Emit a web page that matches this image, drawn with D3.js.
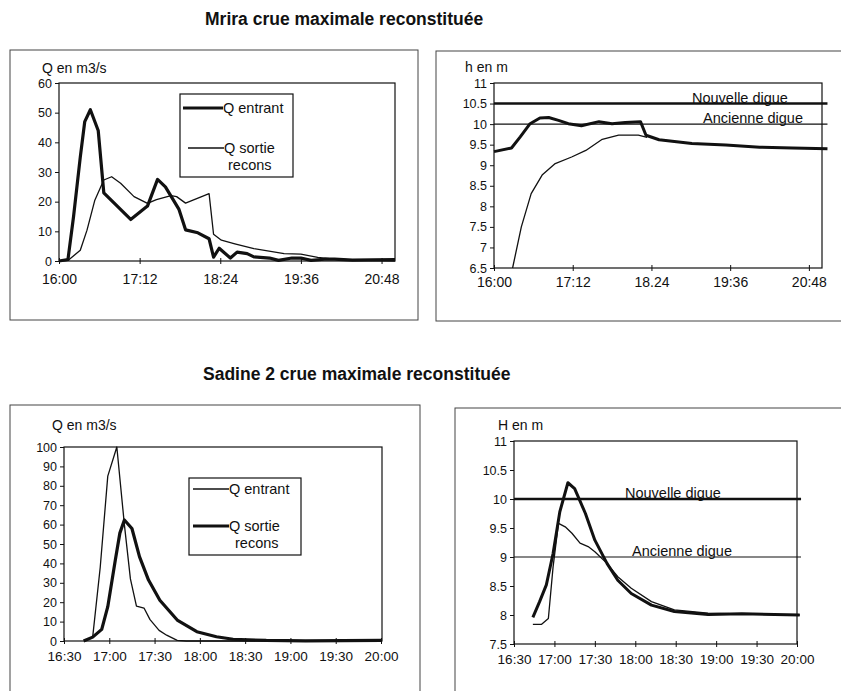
<!DOCTYPE html>
<meta charset="utf-8">
<script src="https://cdnjs.cloudflare.com/ajax/libs/d3/7.8.5/d3.min.js"></script>
<style>
  body { margin: 0; background: #fff; }
  text { font-family: Arial, "Liberation Sans", sans-serif; fill: #111; }
</style>
<svg id="page" width="841" height="691"></svg>
<script>

  // times are minutes after the first tick (16:00 for Mrira, 16:30 for Sadine)
  const mriraTicks = [0, 72, 144, 216, 288]
  const mriraQLabels = ['16:00', '17:12', '18:24', '19:36', '20:48']
  const mriraHLabels = ['16:00', '17:12', '18.24', '19:36', '20:48']
  const mriraQTicks = [0, 10, 20, 30, 40, 50, 60]
  const mriraHTicks = [6.5, 7, 7.5, 8, 8.5, 9, 9.5, 10, 10.5, 11]

  const mriraQEntrant = [[0, 0], [8, 0.5], [13, 15], [19, 35], [23, 47], [28, 51], [35, 44], [40, 23],
    [64, 14], [79, 18.5], [88, 27.5], [95, 25], [107, 17.5], [113, 10.5], [124, 9.5], [134, 7.5],
    [138, 1.3], [143, 4.3], [153, 1], [159, 3], [168, 2.5], [174, 1.4], [188, 1], [196, 0.2],
    [208, 1], [216, 1], [225, 0.2], [237, 0.6], [246, 0.6], [262, 0.3], [280, 0.4], [300, 0.5]]
  const mriraQSortie = [[0, 0], [8, 0.2], [19, 3.6], [25, 10.4], [32, 20.5], [40, 27.3], [47, 28.4],
    [55, 26.2], [67, 21.7], [79, 19.4], [87, 20.7], [100, 22], [105, 21.7], [113, 19.5], [134, 22.7],
    [138, 9], [145, 7], [157, 5.8], [174, 4.2], [201, 2.5], [216, 2.3], [231, 1.2], [246, 0.6],
    [276, 0.2], [300, 0]]

  const mriraHThick = [[0, 9.33], [16, 9.42], [24, 9.69], [33, 10.01], [42, 10.15], [50, 10.16],
    [59, 10.09], [68, 10.01], [80, 9.96], [96, 10.06], [108, 10.01], [120, 10.04], [134, 10.06],
    [139, 9.73], [151, 9.62], [181, 9.53], [212, 9.49], [243, 9.44], [273, 9.42], [305, 9.4]]
  const mriraHThin = [[17, 6.5], [25, 7.5], [34, 8.31], [44, 8.76], [56, 9.04], [71, 9.2], [84, 9.36],
    [99, 9.63], [114, 9.73], [132, 9.73], [140, 9.68]]
  const mriraDigues = [10.5, 10]

  const sadineTicks = [0, 30, 60, 90, 120, 150, 180, 210]
  const sadineLabels = ['16:30', '17:00', '17:30', '18:00', '18:30', '19:00', '19:30', '20:00']
  const sadineQTicks = [0, 10, 20, 30, 40, 50, 60, 70, 80, 90, 100]
  const sadineHTicks = [7.5, 8, 8.5, 9, 9.5, 10, 10.5, 11]

  const sadineQEntrant = [[14, 0], [19, 2], [24, 38], [29, 85], [35, 100], [40, 60], [44, 32], [48, 18],
    [53, 17], [57, 11], [63, 5.5], [68, 3], [75, 0.3], [81, 0], [210, 0]]
  const sadineQSortie = [[13, 0], [19, 2], [25, 6], [29, 17.7], [34, 41.7], [37, 55.6], [40, 62.4],
    [45, 58], [50, 43.5], [56, 31.4], [63.5, 21], [75, 10.8], [88, 4.8], [101, 2.2], [112, 0.9],
    [134, 0.3], [160, 0.1], [185, 0.2], [210, 0.3]]

  const sadineHThick = [[14, 7.96], [19, 8.23], [24, 8.52], [29, 9.06], [34, 9.78], [40, 10.28],
    [45, 10.18], [53, 9.75], [60, 9.29], [69, 8.89], [77, 8.6], [87, 8.37], [102, 8.17], [119, 8.06],
    [144, 8.01], [169, 8.02], [212, 8.0]]
  const sadineHThin = [[14, 7.84], [20.5, 7.84], [25.5, 7.94], [29, 8.83], [33, 9.58], [38, 9.52],
    [43, 9.41], [49, 9.24], [55, 9.18], [60, 9.09], [69, 8.89], [77, 8.66], [87, 8.46], [102, 8.23],
    [119, 8.09], [144, 8.03], [212, 8.0]]
  const sadineDigues = [10, 9]

  const digueNames = ['Nouvelle digue', 'Ancienne digue']

  const svg = d3.select('#page')

  // titles
  svg.append('text').attr('x', 205).attr('y', 25).style('font-size', '17.5px').style('font-weight', 'bold')
    .text('Mrira crue maximale reconstituée')
  svg.append('text').attr('x', 203).attr('y', 380).style('font-size', '17.5px').style('font-weight', 'bold')
    .text('Sadine 2 crue maximale reconstituée')

  // outer frames (scanned boxes)
  const frames = [[10, 50, 408, 270], [436, 51, 420, 270], [10, 405, 410, 300], [455, 408, 400, 300]]
  frames.forEach(function (f) {
    svg.append('rect').attr('x', f[0]).attr('y', f[1]).attr('width', f[2]).attr('height', f[3])
      .attr('fill', 'none').attr('stroke', '#444').attr('stroke-width', 1)
  })

  function drawChart(o) {
    const g = svg.append('g')
    const x = d3.scaleLinear().domain(o.xDomain).range([o.left, o.right])
    const y = d3.scaleLinear().domain(o.yDomain).range([o.bottom, o.top])

    g.append('rect').attr('x', o.left).attr('y', o.top)
      .attr('width', o.boxRight - o.left).attr('height', o.bottom - o.top)
      .attr('fill', 'none').attr('stroke', '#111').attr('stroke-width', 1.2)

    // y axis
    const ya = g.append('g').attr('transform', 'translate(' + o.left + ',0)')
      .call(d3.axisLeft(y).tickValues(o.yTicks).tickSize(4).tickPadding(3).tickFormat(function (d) { return String(d) }))
    ya.select('.domain').remove()
    ya.selectAll('text').style('font-size', o.yFont + 'px').attr('fill', '#111')
    ya.selectAll('line').attr('stroke', '#111')

    // x axis, ticks crossing the line
    const xa = g.append('g').attr('transform', 'translate(0,' + o.bottom + ')')
      .call(d3.axisBottom(x).tickValues(o.xTicks).tickFormat(function (d, i) { return o.xLabels[i] }))
    xa.select('.domain').remove()
    xa.selectAll('line').attr('y1', -3).attr('y2', 3).attr('stroke', '#111')
    xa.selectAll('text').attr('y', o.xLabelY).attr('dy', '0.71em').style('font-size', o.xFont + 'px').attr('fill', '#111')

    // axis title
    g.append('text').attr('x', o.titleX).attr('y', o.titleY).style('font-size', '14px').text(o.yTitle)

    // reference levels
    if (o.digues) {
      o.digues.forEach(function (v, i) {
        g.append('line').attr('x1', x(o.xDomain[0])).attr('x2', x(o.digueEnd))
          .attr('y1', y(v)).attr('y2', y(v)).attr('stroke', '#111').attr('stroke-width', i === 0 ? 2.6 : 1.2)
        g.append('text').attr('x', o.digueX[i]).attr('y', y(v) - 1).style('font-size', '14.5px').text(digueNames[i])
      })
    }

    const line = d3.line().x(function (d) { return x(d[0]) }).y(function (d) { return y(d[1]) })
    o.series.forEach(function (s) {
      g.append('path').datum(s.data).attr('fill', 'none').attr('stroke', '#111')
        .attr('stroke-width', s.w).attr('stroke-linejoin', 'round').attr('d', line)
    })

    // legend
    if (o.legend) {
      const L = o.legend
      g.append('rect').attr('x', L.x).attr('y', L.y).attr('width', L.w).attr('height', L.h)
        .attr('fill', '#fff').attr('stroke', '#111').attr('stroke-width', 1.2)
      L.items.forEach(function (it) {
        g.append('line').attr('x1', it.x1).attr('x2', it.x2).attr('y1', it.y).attr('y2', it.y)
          .attr('stroke', '#111').attr('stroke-width', it.w)
        it.lines.forEach(function (t, k) {
          g.append('text').attr('x', it.tx[k]).attr('y', it.y + 5 + k * 17).style('font-size', '14.5px').text(t)
        })
      })
    }
  }

  drawChart({
    left: 59, right: 395, boxRight: 395, top: 83, bottom: 261,
    xDomain: [0, 300], yDomain: [0, 60],
    xTicks: mriraTicks, xLabels: mriraQLabels, yTicks: mriraQTicks,
    xFont: 14, yFont: 12.5, xLabelY: 13,
    yTitle: 'Q en m3/s', titleX: 42, titleY: 73,
    series: [{ data: mriraQEntrant, w: 3.2 }, { data: mriraQSortie, w: 1.3 }],
    legend: {
      x: 180, y: 94, w: 113, h: 83,
      items: [
        { x1: 183, x2: 223, y: 108, w: 3.2, lines: ['Q entrant'], tx: [223] },
        { x1: 188, x2: 224, y: 148, w: 1.3, lines: ['Q sortie', 'recons'], tx: [224, 228] }
      ]
    }
  })

  drawChart({
    left: 494, right: 822, boxRight: 822, top: 83, bottom: 268,
    xDomain: [0, 300], yDomain: [6.5, 11],
    xTicks: mriraTicks, xLabels: mriraHLabels, yTicks: mriraHTicks,
    xFont: 14, yFont: 12.5, xLabelY: 9,
    yTitle: 'h en m', titleX: 465, titleY: 72,
    digues: mriraDigues, digueEnd: 305, digueX: [692, 703],
    series: [{ data: mriraHThin, w: 1.3 }, { data: mriraHThick, w: 3 }]
  })

  drawChart({
    left: 64, right: 381, boxRight: 382, top: 447, bottom: 641,
    xDomain: [0, 210], yDomain: [0, 100],
    xTicks: sadineTicks, xLabels: sadineLabels, yTicks: sadineQTicks,
    xFont: 13.5, yFont: 12.5, xLabelY: 10,
    yTitle: 'Q en m3/s', titleX: 52, titleY: 430,
    series: [{ data: sadineQEntrant, w: 1.3 }, { data: sadineQSortie, w: 3.2 }],
    legend: {
      x: 189, y: 478, w: 112, h: 77,
      items: [
        { x1: 193, x2: 229, y: 489, w: 1.3, lines: ['Q entrant'], tx: [229] },
        { x1: 193, x2: 229, y: 526, w: 3.2, lines: ['Q sortie', 'recons'], tx: [229, 235] }
      ]
    }
  })

  drawChart({
    left: 514, right: 797, boxRight: 797, top: 441, bottom: 644,
    xDomain: [0, 210], yDomain: [7.5, 11],
    xTicks: sadineTicks, xLabels: sadineLabels, yTicks: sadineHTicks,
    xFont: 13.5, yFont: 12.5, xLabelY: 10,
    yTitle: 'H en m', titleX: 498, titleY: 430,
    digues: sadineDigues, digueEnd: 213, digueX: [625, 632],
    series: [{ data: sadineHThin, w: 1.3 }, { data: sadineHThick, w: 3 }]
  })

</script>
